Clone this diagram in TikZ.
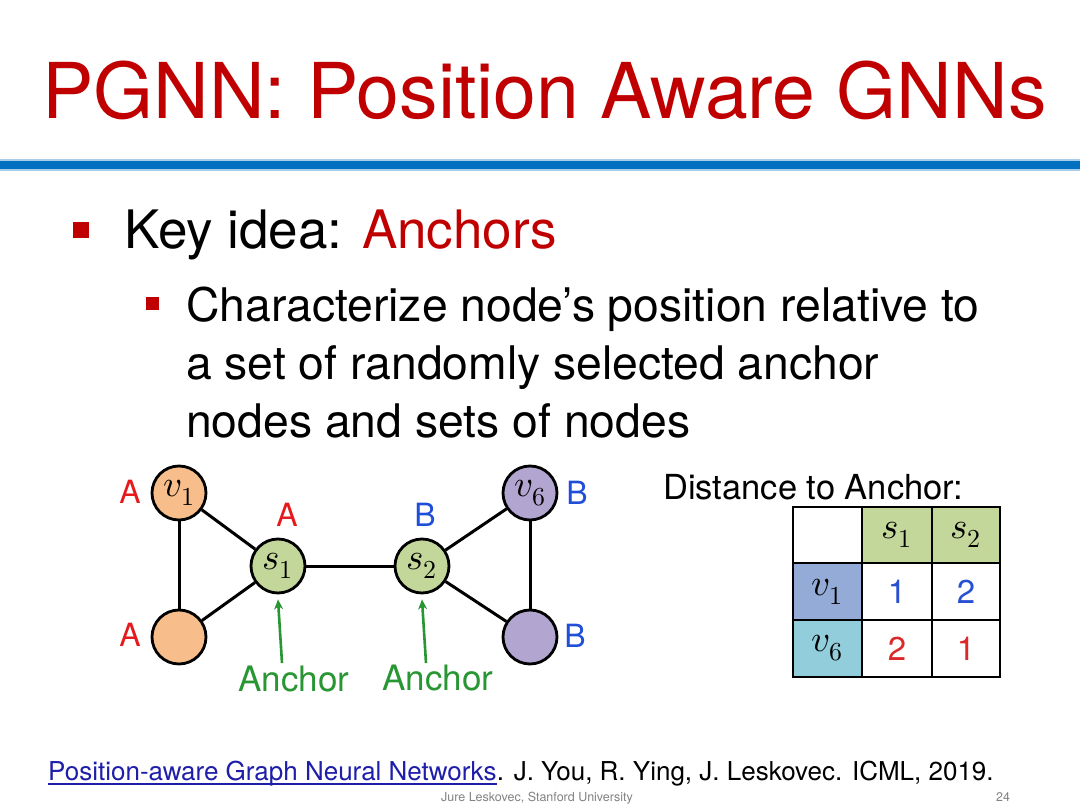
\documentclass[tikz,border=0pt]{standalone}
\usepackage{fontspec}
\usepackage{unicode-math}
\setmainfont{TeX Gyre Heros}
\setmathfont{Latin Modern Math}
\usetikzlibrary{arrows.meta}
\definecolor{titlered}{RGB}{192,0,0}
\definecolor{barblue}{RGB}{0,112,192}
\definecolor{orangefill}{RGB}{247,190,140}
\definecolor{greenfill}{RGB}{196,215,155}
\definecolor{purplefill}{RGB}{178,165,208}
\definecolor{labred}{RGB}{228,26,28}
\definecolor{labblue}{RGB}{31,78,216}
\definecolor{anchgreen}{RGB}{40,150,50}
\definecolor{vonefill}{RGB}{147,171,214}
\definecolor{vsixfill}{RGB}{146,205,220}
\definecolor{numblue}{RGB}{40,80,210}
\definecolor{numred}{RGB}{220,40,40}
\definecolor{linkblue}{RGB}{30,30,170}
\definecolor{footgray}{RGB}{130,130,130}
\tikzset{
  txt/.style={anchor=base west, inner sep=0pt},
  gnode/.style={circle, draw=black, line width=2.8pt, minimum size=54pt, inner sep=0pt, font=\fontsize{37}{39}\selectfont},
  edge/.style={line width=3pt, black},
  grlabel/.style={inner sep=0pt, font=\fontsize{32}{34}\selectfont},
  anchorarrow/.style={anchgreen, line width=2.6pt, -{Stealth[length=10pt,width=9pt]}},
  cell/.style={rectangle, draw=black, line width=1.6pt, inner sep=0pt, font=\fontsize{33}{35}\selectfont},
  mcell/.style={cell, font=\fontsize{37}{39}\selectfont},
}
\begin{document}
\begin{tikzpicture}[x=1pt,y=-1pt]
\useasboundingbox (0,0) rectangle (1080,810);
\fill[white] (0,0) rectangle (1080,810);
% title
\node[txt, text=titlered, font=\fontsize{77}{80}\selectfont] (title) at (42,119) {PGNN: Position Aware GNNs};
\fill[barblue!35] (0,159) rectangle (1080,171);
\fill[barblue] (0,161) rectangle (1080,169);
% bullets
\fill[titlered] (73,222) rectangle (89,238);
\node[txt, font=\fontsize{53}{58}\selectfont] (key) at (124,249) {Key idea: \textcolor{titlered}{Anchors}};
\fill[titlered] (146,297) rectangle (159,310);
\node[txt, font=\fontsize{46.3}{50}\selectfont] (l1) at (186,322) {Characterize node’s position relative to};
\node[txt, font=\fontsize{46.3}{50}\selectfont] (l2) at (186,380) {a set of randomly selected anchor};
\node[txt, font=\fontsize{46.3}{50}\selectfont] (l3) at (186,438) {nodes and sets of nodes};
% graph
\node[gnode, fill=orangefill] (v1) at (179,493) {$v_1$};
\node[gnode, fill=orangefill] (v2) at (179,637) {};
\node[gnode, fill=greenfill] (s1) at (278,566) {$s_1$};
\node[gnode, fill=greenfill] (s2) at (422,566) {$s_2$};
\node[gnode, fill=purplefill] (v6) at (530,493) {$v_6$};
\node[gnode, fill=purplefill] (v5) at (530,637) {};
\draw[edge] (v1) -- (v2);
\draw[edge] (v1) -- (s1);
\draw[edge] (v2) -- (s1);
\draw[edge] (s1) -- (s2);
\draw[edge] (s2) -- (v6);
\draw[edge] (s2) -- (v5);
\draw[edge] (v6) -- (v5);
\node[grlabel, text=labred] (la1) at (130,492) {A};
\node[grlabel, text=labred] (la2) at (130,635) {A};
\node[grlabel, text=labred] (la3) at (287,515) {A};
\node[grlabel, text=labblue] (lb1) at (425,515) {B};
\node[grlabel, text=labblue] (lb2) at (577,493) {B};
\node[grlabel, text=labblue] (lb3) at (575,636) {B};
\node[inner sep=0pt, text=anchgreen, font=\fontsize{35}{37}\selectfont] (an1) at (294,679) {Anchor};
\node[inner sep=0pt, text=anchgreen, font=\fontsize{35}{37}\selectfont] (an2) at (438,678) {Anchor};
\coordinate (a1s) at (282,663);
\coordinate (a2s) at (426,663);
\draw[anchorarrow] (a1s) -- ([yshift=-5pt]s1.south);
\draw[anchorarrow] (a2s) -- ([yshift=-5pt]s2.south);
% table
\node[txt, font=\fontsize{34.5}{36}\selectfont] (dist) at (663,500) {Distance to Anchor:};
\node[cell, minimum width=69pt, minimum height=56pt, fill=white] (c00) at (827.5,535) {};
\node[mcell, minimum width=70pt, minimum height=56pt, fill=greenfill] (c01) at (897,535) {$s_1$};
\node[mcell, minimum width=68pt, minimum height=56pt, fill=greenfill] (c02) at (966,535) {$s_2$};
\node[mcell, minimum width=69pt, minimum height=57pt, fill=vonefill] (c10) at (827.5,591.5) {$v_1$};
\node[cell, minimum width=70pt, minimum height=57pt, fill=white, text=numblue] (c11) at (897,591.5) {1};
\node[cell, minimum width=68pt, minimum height=57pt, fill=white, text=numblue] (c12) at (966,591.5) {2};
\node[mcell, minimum width=69pt, minimum height=57pt, fill=vsixfill] (c20) at (827.5,648.5) {$v_6$};
\node[cell, minimum width=70pt, minimum height=57pt, fill=white, text=numred] (c21) at (897,648.5) {2};
\node[cell, minimum width=68pt, minimum height=57pt, fill=white, text=numred] (c22) at (966,648.5) {1};
% footer
\node[txt, text=linkblue, font=\fontsize{26}{28}\selectfont] (link) at (48,780) {Position-aware Graph Neural Networks};
\draw[linkblue, line width=1.2pt] ([yshift=-4pt]link.base west) -- ([yshift=-4pt]link.base east);
\node[txt, font=\fontsize{26}{28}\selectfont] (ref) at (link.base east) {. J. You, R. Ying, J. Leskovec. ICML, 2019.};
\node[inner sep=0pt, anchor=base, text=footgray, font=\fontsize{12.5}{13}\selectfont] (auth) at (537,801) {Jure Leskovec, Stanford University};
\node[inner sep=0pt, anchor=base, text=footgray, font=\fontsize{12.5}{13}\selectfont] (pg) at (1003,801) {24};
\end{tikzpicture}
\end{document}
